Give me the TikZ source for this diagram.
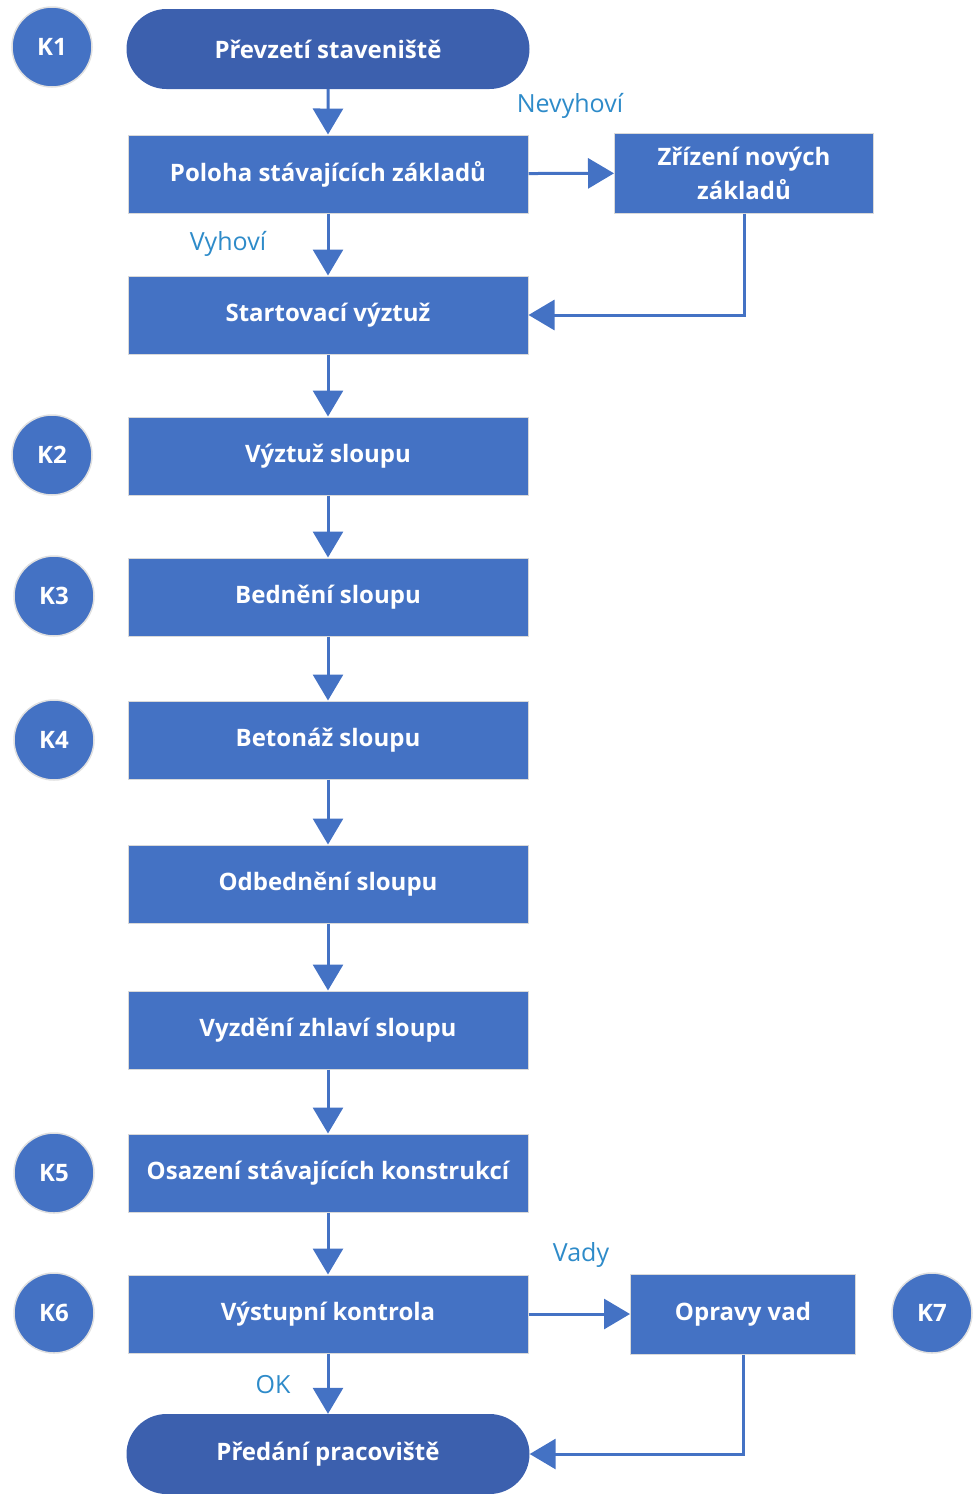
\documentclass[tikz,border=0pt]{standalone}
\usepackage{fontspec}
\setmainfont{Open Sans}
\usetikzlibrary{arrows.meta,shapes.misc}
\definecolor{boxblue}{HTML}{4472C4}
\definecolor{darkblue}{HTML}{3C60AE}
\definecolor{lblblue}{HTML}{2E8BC9}
\tikzset{
  stepbox/.style={rectangle,fill=boxblue,draw=black!15,line width=1pt,minimum width=400pt,minimum height=78pt,text=white,font=\bfseries\fontsize{24}{34}\selectfont,align=center,inner sep=0pt},
  sidebox/.style={stepbox,minimum width=259pt,minimum height=80pt},
  term/.style={rounded rectangle,fill=darkblue,minimum width=403pt,minimum height=80pt,text=white,font=\bfseries\fontsize{24}{30}\selectfont,inner sep=0pt},
  kcirc/.style={circle,fill=boxblue,draw=black!12,line width=1.5pt,minimum size=80pt,inner sep=0pt,text=white,font=\bfseries\fontsize{24}{30}\selectfont},
  lbl/.style={text=lblblue,font=\fontsize{25}{30}\selectfont},
  conn/.style={draw=boxblue,line width=3pt,-{Triangle[length=26pt,width=30pt]}},
}
\begin{document}
\begin{tikzpicture}[x=1pt,y=-1pt]
\useasboundingbox (0,0) rectangle (972,1494);
\node[term] (t1) at (328,49) {Převzetí staveniště};
\node[stepbox] (s1) at (328,174) {Poloha stávajících základů};
\node[sidebox] (z) at (744,173) {Zřízení nových\\základů};
\node[stepbox] (s2) at (328,315) {Startovací výztuž};
\node[stepbox] (s3) at (328,456) {Výztuž sloupu};
\node[stepbox] (s4) at (328,597) {Bednění sloupu};
\node[stepbox] (s5) at (328,740) {Betonáž sloupu};
\node[stepbox] (s6) at (328,884) {Odbednění sloupu};
\node[stepbox] (s7) at (328,1030) {Vyzdění zhlaví sloupu};
\node[stepbox] (s8) at (328,1173) {Osazení stávajících konstrukcí};
\node[stepbox] (s9) at (328,1314) {Výstupní kontrola};
\node[sidebox,minimum width=225pt] (o) at (743,1314) {Opravy vad};
\node[term] (t2) at (328,1454) {Předání pracoviště};
\node[kcirc] (k1) at (52,47) {K1};
\node[kcirc] (k2) at (52,455) {K2};
\node[kcirc] (k3) at (54,596) {K3};
\node[kcirc] (k4) at (54,740) {K4};
\node[kcirc] (k5) at (54,1173) {K5};
\node[kcirc] (k6) at (54,1313) {K6};
\node[kcirc] (k7) at (932,1313) {K7};
\node[lbl] (l1) at (570,106) {Nevyhoví};
\node[lbl] (l2) at (228,244) {Vyhoví};
\node[lbl] (l3) at (581,1255) {Vady};
\node[lbl] (l4) at (273,1385) {OK};
\draw[conn] (t1) -- (s1);
\draw[conn] (s1) -- (s2);
\draw[conn] (s1) -- (z);
\draw[conn] (z.south) |- (s2.east);
\draw[conn] (s2) -- (s3);
\draw[conn] (s3) -- (s4);
\draw[conn] (s4) -- (s5);
\draw[conn] (s5) -- (s6);
\draw[conn] (s6) -- (s7);
\draw[conn] (s7) -- (s8);
\draw[conn] (s8) -- (s9);
\draw[conn] (s9) -- (o);
\draw[conn] (s9) -- (t2);
\draw[conn] (o.south) |- (t2.east);
\end{tikzpicture}
\end{document}
